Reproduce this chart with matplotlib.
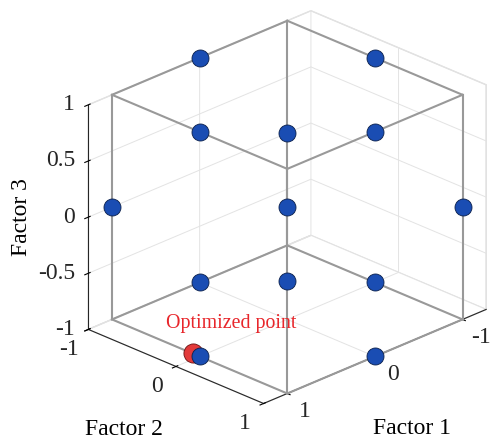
import numpy as np
import matplotlib.pyplot as plt
from itertools import product

plt.rcParams['font.family'] = ['Liberation Serif', 'DejaVu Serif']
plt.rcParams['axes.unicode_minus'] = False

# Box-Behnken design, coded levels
factor1 = [1, 1, -1, -1, 1, 1, -1, -1, 0, 0, 0, 0, 0]
factor2 = [1, -1, 1, -1, 0, 0, 0, 0, 1, 1, -1, -1, 0]
factor3 = [0, 0, 0, 0, 1, -1, 1, -1, 1, -1, 1, -1, 0]

# optimum from the response model
opt_f1, opt_f2, opt_f3 = 1, -0.08, -1

f1_ticks = [-1, 0, 1]
f2_ticks = [-1, 0, 1]
f3_ticks = [-1, -0.5, 0, 0.5, 1]
f3_labels = ['-1', '-0.5', '0', '0.5', '1']

xlim, ylim, zlim = (-1.27, 1.27), (-1, 1), (-1, 1)

fig = plt.figure(figsize=(4.9, 4.44), dpi=100)
ax = fig.add_axes([0.074, 0.02, 1, 1], projection='3d', proj_type='ortho',
                  computed_zorder=False)
ax.view_init(elev=25, azim=45)

ax.set_xlim(*xlim)
ax.set_ylim(*ylim)
ax.set_zlim(*zlim)
ax.set_box_aspect((2.54, 2, 2), zoom=1.03)

# cube edges
for a, b in product([-1, 1], repeat=2):
    ax.plot([-1, 1], [a, a], [b, b], color='#999999', lw=1.5, zorder=2)
    ax.plot([a, a], [-1, 1], [b, b], color='#999999', lw=1.5, zorder=2)
    ax.plot([a, a], [b, b], [-1, 1], color='#999999', lw=1.5, zorder=2)

ax.scatter([opt_f1], [opt_f2], [opt_f3], s=190, color='#e23a3a',
           edgecolors='#6a1010', linewidths=0.6, depthshade=False, zorder=3)
ax.scatter(factor1, factor2, factor3, s=150, color='#1a4db3',
           edgecolors='#0a1f4a', linewidths=0.6, depthshade=False, zorder=4)
ax.text(opt_f1, opt_f2 - 0.3, opt_f3 + 0.17, 'Optimized point', color='#e8262b',
        fontsize=14.3, ha='left', va='center', zorder=5)

# ticks only; labels are placed by hand below (matplotlib pushes them too far out)
ax.set_xticks(f1_ticks)
ax.set_yticks(f2_ticks)
ax.set_zticks(f3_ticks)

for axis in (ax.xaxis, ax.yaxis, ax.zaxis):
    axis.set_tick_params(labelbottom=False, labeltop=False)
    axis.label.set_visible(False)
    axis.set_pane_color((1, 1, 1, 1))
    axis.pane.set_edgecolor('#dddddd')
    axis.line.set_color('#262626')
    axis.line.set_linewidth(0.8)
    axis._axinfo['grid']['color'] = '#e3e3e3'
    axis._axinfo['grid']['linewidth'] = 0.7
    axis._axinfo['tick']['color'] = '#262626'

tick_kw = dict(fontsize=17, color='#262626', zorder=6)
for t in f1_ticks:
    ax.text(t, ylim[1] + 0.206, zlim[0] - 0.092, str(t), ha='center', va='center', **tick_kw)
for t in f2_ticks:
    ax.text(xlim[1] + 0.217, t, zlim[0] - 0.106, str(t), ha='center', va='center', **tick_kw)
for t, lab in zip(f3_ticks, f3_labels):
    ax.text(xlim[1] + 0.149, ylim[0], t + 0.049, lab, ha='right', va='center', **tick_kw)

fig.text(0.043, 0.511, 'Factor 3', rotation=90, fontsize=17, ha='center', va='center')
fig.text(0.253, 0.032, 'Factor 2', fontsize=17, ha='center', va='center')
fig.text(0.841, 0.036, 'Factor 1', fontsize=17, ha='center', va='center')

fig.savefig('out.png', dpi=100)
